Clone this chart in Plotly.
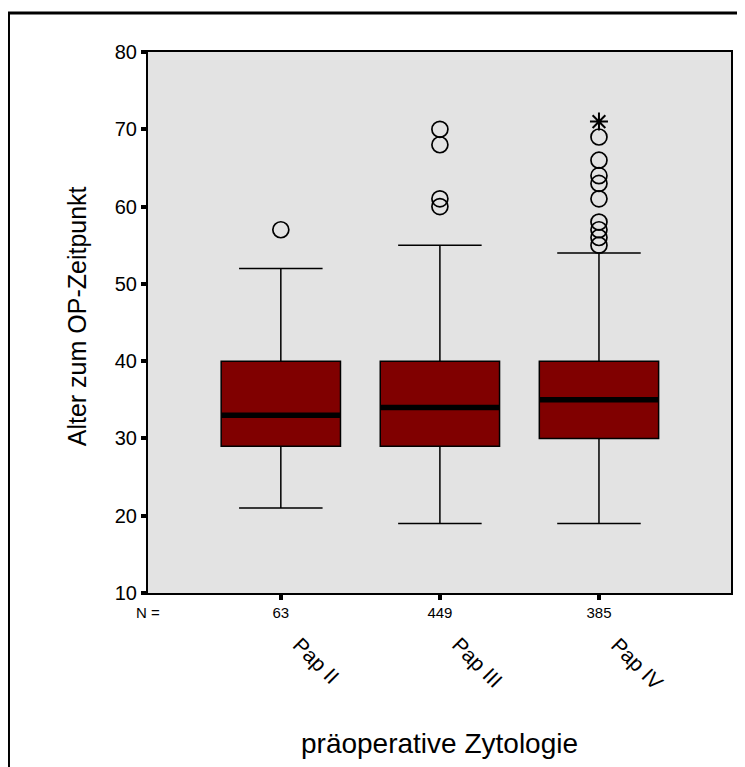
import plotly.graph_objects as go

categories = ["Pap II", "Pap III", "Pap IV"]
n_counts = ["63", "449", "385"]
q1 = [29, 29, 30]
medians = [33, 34, 35]
q3 = [40, 40, 40]
lower_whisker = [21, 19, 19]
upper_whisker = [52, 55, 54]
outliers = [
    [57],
    [60, 61, 68, 70],
    [55, 56, 57, 58, 61, 63, 64, 66, 69],
]
extremes = [[], [], [71]]
y_ticks = [10, 20, 30, 40, 50, 60, 70, 80]

FONT = "Liberation Sans, Arial, sans-serif"
BOX_W = 0.75
OFF = 8  # page body margin

fig = go.Figure()
for i, cat in enumerate(categories):
    fig.add_trace(go.Box(
        x0=i, q1=[q1[i]], median=[medians[i]], q3=[q3[i]],
        lowerfence=[lower_whisker[i]], upperfence=[upper_whisker[i]],
        width=BOX_W, whiskerwidth=0.7, boxpoints=False,
        fillcolor="#800000", line=dict(color="black", width=1.5),
        name=cat, showlegend=False, hoverinfo="skip",
    ))

mx, my = [], []
for i, m in enumerate(medians):
    mx += [i - BOX_W / 2, i + BOX_W / 2, None]
    my += [m, m, None]
fig.add_trace(go.Scatter(x=mx, y=my, mode="lines",
                         line=dict(color="black", width=5.5),
                         showlegend=False, hoverinfo="skip"))

ox, oy = [], []
for i, vals in enumerate(outliers):
    ox += [i] * len(vals)
    oy += vals
fig.add_trace(go.Scatter(x=ox, y=oy, mode="markers",
                         marker=dict(symbol="circle-open", size=16, color="black",
                                     line=dict(width=1.7, color="black")),
                         showlegend=False, hoverinfo="skip"))

ex, ey = [], []
for i, vals in enumerate(extremes):
    ex += [i] * len(vals)
    ey += vals
fig.add_trace(go.Scatter(x=ex, y=ey, mode="markers",
                         marker=dict(symbol="asterisk-open", size=15, color="black",
                                     line=dict(width=2, color="black")),
                         showlegend=False, hoverinfo="skip"))

W, H = 745 - OFF, 767 - OFF
L = 148 - OFF
T = 52 - OFF
R = W - (733 - OFF)
B = H - (593 - OFF)
pw, ph = W - L - R, H - T - B

def px(x):
    return (x - OFF - L) / pw

def py(y):
    return (H - B - (y - OFF)) / ph

annotations = []
for i, cat in enumerate(categories):
    annotations.append(dict(
        x=i, y=0, xref="x", yref="paper", text=cat, showarrow=False,
        textangle=45, xanchor="left", yanchor="top", xshift=5, yshift=-37,
        font=dict(family=FONT, size=21, color="black"),
    ))
annotations.append(dict(x=0, y=py(612), xref="paper", yref="paper", text="N =",
                        showarrow=False, xanchor="center", yanchor="middle",
                        font=dict(family=FONT, size=15, color="black")))
annotations.append(dict(x=px(77), y=py(316), xref="paper", yref="paper",
                        text="Alter zum OP-Zeitpunkt", textangle=-90, showarrow=False,
                        xanchor="center", yanchor="middle",
                        font=dict(family=FONT, size=25, color="black")))
annotations.append(dict(x=px(440), y=py(743), xref="paper", yref="paper",
                        text="präoperative Zytologie", showarrow=False,
                        xanchor="center", yanchor="middle",
                        font=dict(family=FONT, size=28, color="black")))

fig.update_layout(
    width=W, height=H,
    margin=dict(l=L, r=R, t=T, b=B),
    paper_bgcolor="white", plot_bgcolor="#e3e3e3",
    font=dict(family=FONT, color="black"),
    annotations=annotations,
    shapes=[dict(type="rect", xref="paper", yref="paper",
                 x0=px(8), x1=px(790), y0=py(800), y1=py(13),
                 line=dict(color="black", width=3), fillcolor="rgba(0,0,0,0)",
                 layer="below")],
    xaxis=dict(range=[-0.835, 2.83], tickvals=[0, 1, 2], ticktext=n_counts,
               ticks="outside", ticklen=5, tickwidth=4, tickcolor="black",
               showline=True, linewidth=2, linecolor="black", mirror=True,
               showgrid=False, zeroline=False,
               tickfont=dict(family=FONT, size=15, color="black")),
    yaxis=dict(range=[10, 80], tickvals=y_ticks,
               ticks="outside", ticklen=5, tickwidth=4, tickcolor="black",
               showline=True, linewidth=2, linecolor="black", mirror=True,
               showgrid=False, zeroline=False,
               tickfont=dict(family=FONT, size=20, color="black")),
)

fig.write_html("out.html")
